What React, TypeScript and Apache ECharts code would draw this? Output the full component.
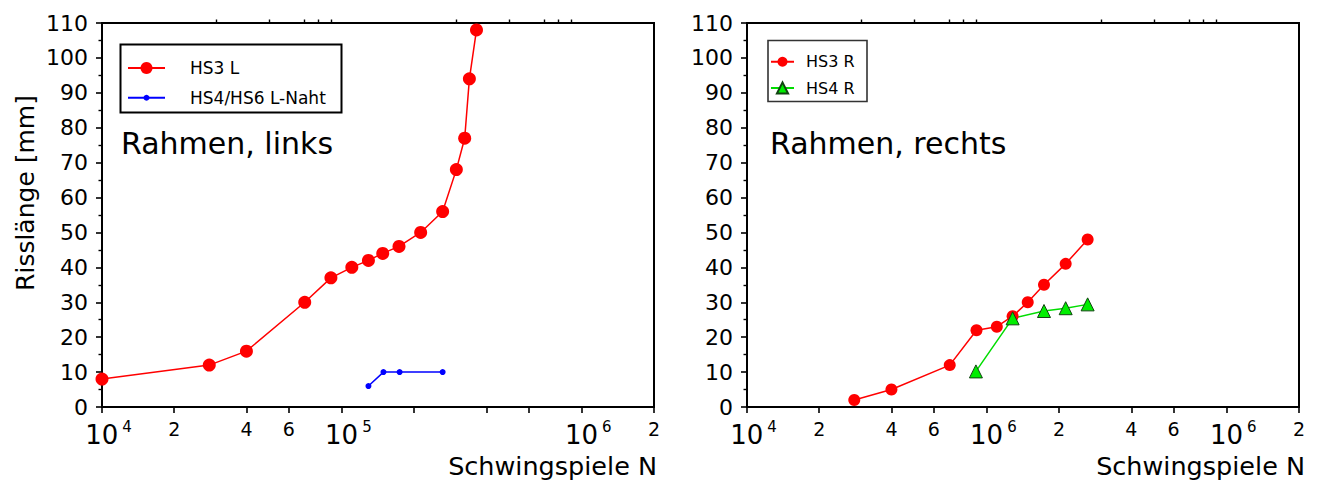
import React, { useEffect, useRef } from "react";
import * as echarts from "echarts";

// ---- data (N = Schwingspiele, a = Risslänge in mm) ----
const hs3L_N = [1.0e4, 2.8e4, 4.0e4, 7.0e4, 9.0e4, 1.1e5, 1.29e5, 1.48e5, 1.73e5, 2.13e5, 2.63e5, 3.0e5, 3.25e5, 3.4e5, 3.64e5];
const hs3L_a = [8, 12, 16, 30, 37, 40, 42, 44, 46, 50, 56, 68, 77, 94, 108];
const hs46L_N = [1.29e5, 1.49e5, 1.74e5, 2.63e5];
const hs46L_a = [6, 10, 10, 10];

const hs3R_N = [2.8e4, 4.0e4, 7.0e4, 9.05e4, 1.1e5, 1.28e5, 1.48e5, 1.73e5, 2.13e5, 2.63e5];
const hs3R_a = [2, 5, 12, 22, 23, 26, 30, 35, 41, 48];
const hs4R_N = [9.0e4, 1.28e5, 1.73e5, 2.13e5, 2.63e5];
const hs4R_a = [10.2, 25.4, 27.5, 28.3, 29.4];

// ---- axes ----
const xMin = 1e4;
const xMax = 2e6;
const yMin = 0;
const yMax = 110;
const yStep = 10;
const majorTickValues = [1e4, 2e4, 4e4, 6e4, 1e5, 2e5, 4e5, 6e5, 1e6, 2e6];
const minorTickValues = [3e4, 5e4, 7e4, 8e4, 9e4, 3e5, 5e5, 7e5, 8e5, 9e5];
const leftLabelValues = [1e4, 2e4, 4e4, 6e4, 1e5, 1e6, 2e6];
const leftLabelTexts = ["10^4", "2", "4", "6", "10^5", "10^6", "2"];
const rightLabelValues = [1e4, 2e4, 4e4, 6e4, 1e5, 2e5, 4e5, 6e5, 1e6, 2e6];
const rightLabelTexts = ["10^4", "2", "4", "6", "10^6", "2", "4", "6", "10^6", "2"];

const FONT = "DejaVu Sans";

const zip = (xs: number[], ys: number[]) => xs.map((x, i) => [x, ys[i]]);

const makeFormatter = (vals: number[], texts: string[]) => (v: number) => {
  const i = vals.findIndex((x) => Math.abs(x - v) / x < 1e-6);
  if (i < 0) return "";
  const t = texts[i];
  if (t.includes("^")) {
    const [b, s] = t.split("^");
    return `{b|${b}}{s|${s}}`;
  }
  return `{n|${t}}`;
};

const richLabels = {
  b: { fontFamily: FONT, fontSize: 26, lineHeight: 29, color: "#000", verticalAlign: "bottom", padding: [0, 0, 0, 13] },
  s: { fontFamily: FONT, fontSize: 15, lineHeight: 15, color: "#000", verticalAlign: "top", padding: [0, 0, 0, 4] },
  n: { fontFamily: FONT, fontSize: 19, lineHeight: 19, color: "#000" },
};

const majorXAxis = (gridIndex: number, vals: number[], texts: string[]) => ({
  type: "log",
  logBase: 10,
  gridIndex,
  min: xMin,
  max: xMax,
  axisLine: { show: true, lineStyle: { color: "#000", width: 2 } },
  axisTick: { show: true, length: 6, customValues: majorTickValues, lineStyle: { color: "#000", width: 1.6 } },
  axisLabel: {
    show: true,
    customValues: vals,
    formatter: makeFormatter(vals, texts),
    margin: 12,
    rich: richLabels,
  },
  splitLine: { show: false },
  minorTick: { show: false },
});

const minorXAxis = (gridIndex: number) => ({
  type: "log",
  logBase: 10,
  gridIndex,
  min: xMin,
  max: xMax,
  axisLine: { show: false },
  axisTick: { show: true, length: 3.5, customValues: minorTickValues, lineStyle: { color: "#000", width: 1.4 } },
  axisLabel: { show: false },
  splitLine: { show: false },
});

const yAxisCfg = (gridIndex: number, withName: boolean) => ({
  type: "value",
  gridIndex,
  min: yMin,
  max: yMax,
  interval: yStep,
  axisLine: { show: true, lineStyle: { color: "#000", width: 2 } },
  axisTick: { show: true, length: 6, lineStyle: { color: "#000", width: 1.6 } },
  minorTick: { show: true, splitNumber: 2, length: 3.5, lineStyle: { color: "#000", width: 1.4 } },
  axisLabel: { fontFamily: FONT, fontSize: 22, color: "#000", margin: 14 },
  splitLine: { show: false },
  ...(withName
    ? {
        name: "Risslänge [mm]",
        nameLocation: "middle",
        nameGap: 64,
        nameTextStyle: { fontFamily: FONT, fontSize: 25, color: "#000", padding: [0, 0, 0, 44] },
      }
    : {}),
});

const legendCfg = (name: string, left: number, top: number, w: number, h: number, fs: number, gap: number) => ({
  data: [name],
  left,
  top,
  orient: "vertical",
  padding: 0,
  itemWidth: w,
  itemHeight: h,
  selectedMode: false,
  textStyle: { fontFamily: FONT, fontSize: fs, color: "#000", padding: [0, 0, 0, gap] },
});

export default function App() {
  const ref = useRef<HTMLDivElement>(null);
  useEffect(() => {
    if (!ref.current) return;
    const chart = echarts.init(ref.current, undefined, { renderer: "svg" });
    const option: any = {
      animation: false,
      backgroundColor: "#ffffff",
      grid: [
        { left: 102, top: 23, width: 552, height: 384, show: true, borderColor: "#000", borderWidth: 2, containLabel: false, outerBoundsMode: "none" },
        { left: 747, top: 23, width: 552, height: 384, show: true, borderColor: "#000", borderWidth: 2, containLabel: false, outerBoundsMode: "none" },
      ],
      xAxis: [
        majorXAxis(0, leftLabelValues, leftLabelTexts),
        minorXAxis(0),
        majorXAxis(1, rightLabelValues, rightLabelTexts),
        minorXAxis(1),
      ],
      yAxis: [yAxisCfg(0, true), yAxisCfg(1, false)],
      legend: [
        legendCfg("HS3 L", 127, 59.5, 37, 15, 17, 20),
        legendCfg("HS4/HS6 L-Naht", 127, 89.25, 37, 7.5, 17, 20),
        legendCfg("HS3 R", 770, 53.75, 23, 12.5, 16, 7),
        legendCfg("HS4 R", 770, 80, 23, 14, 16, 7),
      ],
      graphic: [
        { type: "rect", shape: { x: 120.5, y: 44.5, width: 221, height: 68 }, style: { fill: "transparent", stroke: "#000", lineWidth: 2 }, z: 10 },
        { type: "rect", shape: { x: 768, y: 40.5, width: 99, height: 61 }, style: { fill: "transparent", stroke: "#333", lineWidth: 1.6 }, z: 10 },
        { type: "text", x: 121, y: 143, style: { text: "Rahmen, links", font: `30px "${FONT}"`, fill: "#000", textAlign: "left", textVerticalAlign: "middle" } },
        { type: "text", x: 770, y: 143, style: { text: "Rahmen, rechts", font: `30px "${FONT}"`, fill: "#000", textAlign: "left", textVerticalAlign: "middle" } },
        { type: "text", x: 657, y: 466, style: { text: "Schwingspiele N", font: `25.5px "${FONT}"`, fill: "#000", textAlign: "right", textVerticalAlign: "middle" } },
        { type: "text", x: 1305, y: 466, style: { text: "Schwingspiele N", font: `25.5px "${FONT}"`, fill: "#000", textAlign: "right", textVerticalAlign: "middle" } },
      ],
      series: [
        {
          name: "HS3 L",
          type: "line",
          xAxisIndex: 0,
          yAxisIndex: 0,
          data: zip(hs3L_N, hs3L_a),
          symbol: "circle",
          symbolSize: 13,
          clip: false,
          itemStyle: { color: "#ff0000" },
          lineStyle: { color: "#ff0000", width: 1.5 },
        },
        {
          name: "HS4/HS6 L-Naht",
          type: "line",
          xAxisIndex: 0,
          yAxisIndex: 0,
          data: zip(hs46L_N, hs46L_a),
          symbol: "circle",
          symbolSize: 6,
          clip: false,
          itemStyle: { color: "#0000ff" },
          lineStyle: { color: "#0000ff", width: 1.5 },
        },
        {
          name: "HS3 R",
          type: "line",
          xAxisIndex: 2,
          yAxisIndex: 1,
          data: zip(hs3R_N, hs3R_a),
          symbol: "circle",
          symbolSize: 12,
          clip: false,
          itemStyle: { color: "#ff0000" },
          lineStyle: { color: "#ff0000", width: 1.5 },
        },
        {
          name: "HS4 R",
          type: "line",
          xAxisIndex: 2,
          yAxisIndex: 1,
          data: zip(hs4R_N, hs4R_a),
          symbol: "triangle",
          symbolSize: 13,
          clip: false,
          itemStyle: { color: "#00ee00", borderColor: "#114411", borderWidth: 1 },
          lineStyle: { color: "#00dd00", width: 1.5 },
        },
      ],
    };
    chart.setOption(option);
    return () => chart.dispose();
  }, []);
  return <div ref={ref} style={{ position: "fixed", left: 0, top: 0, width: 1319, height: 481, background: "#fff" }} />;
}
